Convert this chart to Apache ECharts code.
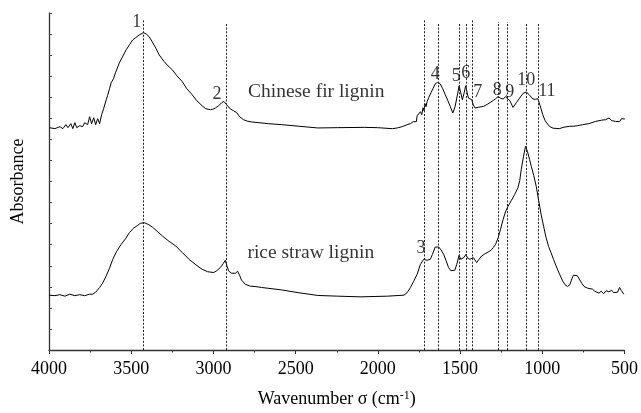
<!DOCTYPE html>
<html>
<head>
<meta charset="utf-8">
<script src="https://cdn.jsdelivr.net/npm/echarts@6/dist/echarts.min.js"></script>
<style>html,body{margin:0;padding:0;background:#fff;}#c{width:641px;height:413px;}</style>
</head>
<body>
<div id="c"></div>
<script>
// Chinese fir lignin spectrum (wavenumber, arbitrary absorbance)
var firWn = [3998,3964,3934,3916,3897,3885,3867,3855,3843,3831,3813,3795,3783,3765,3753,3741,3728,3716,3704,3692,3680,3674,3668,3652,3644,3632,3622,3608,3596,3572,3553,3531,3511,3491,3475,3451,3425,3409,3391,3372,3350,3330,3300,3276,3250,3222,3190,3162,3129,3101,3069,3047,3018,3004,2988,2968,2950,2936,2920,2897,2878,2858,2841,2817,2793,2767,2666,2586,2485,2365,2244,2083,2003,1912,1882,1852,1840,1822,1810,1802,1790,1785,1773,1766,1761,1752,1741,1733,1725,1719,1713,1707,1701,1691,1684,1677,1670,1665,1651,1637,1621,1605,1590,1574,1560,1544,1530,1514,1506,1496,1486,1475,1466,1457,1449,1439,1429,1420,1409,1387,1359,1333,1298,1284,1268,1254,1238,1224,1212,1197,1178,1158,1138,1116,1097,1079,1057,1043,1027,1013,997,983,957,935,897,868,836,808,784,755,717,675,639,615,594,578,566,554,542,530,518,498];
var firAbs = [223,222,224,222,226,223,227,222,228,223,225,224,228,226,234,227,233,226,232,227,236,234,242,251,255,262,268,272,278,288,294,301,306,311,313,316,318.3,317,314.3,309,302.7,296,289.3,285,281,275,269.3,262,256,250,245,242,241,241.5,242.7,245,248,249.3,246,241.7,240,238,234,231,229.5,228.7,227,226,224.5,222.7,223,223.3,223,222,222.7,224,223,226,224,227,225,229,231,229,235,233,239,236,243,240,247,244,249,253,251,258,256,262,267,268.3,267,262,256,250,244.3,237.7,244.3,257.7,265,258,251,258,265,258,252.7,253,251,246,242.7,243.5,244.3,246.5,250.3,252,254.3,252.5,251.7,254,255,250,243.3,248,252.7,257.5,258.7,256,251.7,251.5,252,245,236,230,224.3,222.5,222,223.5,224.3,224.5,225,226,227,229.3,230.5,231,232.7,230,231,229.3,231,229,232,231.7];

// Rice straw lignin spectrum
var riceWn = [4000,3964,3934,3903,3873,3843,3813,3783,3753,3733,3716,3692,3674,3652,3632,3612,3590,3561,3535,3511,3487,3461,3445,3421,3397,3371,3342,3310,3270,3229,3191,3149,3107,3069,3035,2998,2980,2958,2941,2928,2917,2908,2890,2878,2866,2853,2841,2829,2807,2775,2747,2707,2586,2485,2365,2244,2103,1942,1841,1822,1802,1782,1761,1741,1721,1711,1701,1681,1668,1651,1630,1616,1600,1586,1570,1556,1544,1532,1520,1506,1496,1486,1475,1464,1454,1440,1429,1419,1399,1384,1369,1348,1329,1312,1298,1284,1268,1254,1238,1224,1208,1188,1168,1148,1137,1128,1114,1102,1090,1077,1067,1052,1037,1022,1007,992,977,962,947,932,916,895,876,862,846,832,823,811,800,787,776,760,746,724,695,681,669,655,642,627,612,595,578,566,554,542,530,521,512,504];
var riceAbs = [55,54.5,55.5,54,56,54.5,55.5,54.5,56,56,58,62.7,67,74.3,82,91,98.5,106,111.5,117.7,122,125,127,127.7,126,123.3,119,114.3,109,104.3,98,91,85.5,81,78.5,77.7,79.5,82.7,86.5,90,84,79.3,77,76,77,79,75,70,66,64,63.7,62.7,60.3,57.5,54.7,54,53.3,54,55,57.5,62.7,69,76,86,91,92.7,90,91,96,103.3,103.3,100.5,96,90,82.7,79.5,78.3,80,86,95,91,89.3,93,96,92,91,92.7,92.7,87.7,91,94.3,96.5,98.3,100,102.7,106,112.7,121,131,138.5,144.3,150,156,162.7,170,181,194.3,204.3,199,191,184.3,175,164.3,150,136,124,112.7,104,97.7,91,84.3,76,69.3,65.5,63.7,65.5,70,75,76,74.5,72.7,67,63.7,62,61,59,60.5,57,59,56.5,59.5,58.3,60,57.5,59.3,58,62.7,60,58,56];

// Peak reference lines
var peakWn  = [3427,2925,1715,1633,1505,1462,1425,1268,1212,1100,1027];
var peakTop = [331,328,331,328,328,328,331,329,329,328,327];

// Peak number labels
var labelText = ['1','2','3','4','5','6','7','8','9','10','11'];
var labelWn   = [3467,2978,1737,1651,1524,1466,1393,1274,1198,1097,972];
var labelAbs  = [329,256.7,102,276.8,274.3,277.3,258.5,260.2,259,270.2,259.3];

// Curve names
var curveNames = ['Chinese fir lignin','rice straw lignin'];
var curveNameWn = [2375,2408];
var curveNameAbs = [258.7,97];

// Axis ticks
var xMin = 500, xMax = 4000, xStep = 500;

var FONT = '"Liberation Serif","Times New Roman",serif';

function pairs(a, b) { return a.map(function (v, i) { return [v, b[i]]; }); }

var markLines = peakWn.map(function (w, i) {
  return [{ coord: [w, 0] }, { coord: [w, peakTop[i]] }];
});

var labelData = labelText.map(function (t, i) { return { value: [labelWn[i], labelAbs[i]], name: t }; });
var nameData = curveNames.map(function (t, i) { return { value: [curveNameWn[i], curveNameAbs[i]], name: t }; });

var chart = echarts.init(document.getElementById('c'), null, { renderer: 'canvas' });
chart.setOption({
  animation: false,
  backgroundColor: '#fff',
  grid: { left: 49, right: 12, top: 13, bottom: 62, containLabel: false },
  xAxis: {
    type: 'value', inverse: true, min: xMin, max: xMax, interval: xStep,
    name: '{a|Wavenumber σ (cm}{s|-1}{a|)}',
    nameLocation: 'middle', nameGap: 40,
    nameTextStyle: {
      rich: {
        a: { fontFamily: FONT, fontSize: 18, color: '#000' },
        s: { fontFamily: FONT, fontSize: 12, color: '#000', verticalAlign: 'top' }
      }
    },
    axisLine: { show: true, onZero: false, lineStyle: { color: '#333', width: 1.3 } },
    axisTick: { show: true, inside: false, length: 4, lineStyle: { color: '#333', width: 1 } },
    minorTick: { show: true, splitNumber: 2, length: 2.5, lineStyle: { color: '#333', width: 1 } },
    axisLabel: { fontFamily: FONT, fontSize: 18, color: '#000', margin: 10, formatter: function (v) { return String(v); } },
    splitLine: { show: false }
  },
  yAxis: {
    type: 'value', min: 0, max: 338, interval: 21.125,
    name: 'Absorbance', nameLocation: 'middle', nameGap: 22,
    nameTextStyle: { fontFamily: FONT, fontSize: 18, color: '#000' },
    axisLine: { show: true, onZero: false, lineStyle: { color: '#333', width: 1.3 } },
    axisTick: { show: true, inside: true, length: 3, lineStyle: { color: '#444', width: 1 } },
    axisLabel: { show: false },
    splitLine: { show: false }
  },
  series: [
    {
      type: 'line', data: pairs(firWn, firAbs), showSymbol: false, symbol: 'none',
      lineStyle: { color: '#000', width: 1 }, z: 3
    },
    {
      type: 'line', data: pairs(riceWn, riceAbs), showSymbol: false, symbol: 'none',
      lineStyle: { color: '#000', width: 1 }, z: 3,
      markLine: {
        silent: true, symbol: ['none', 'none'], label: { show: false },
        lineStyle: { color: '#222', width: 1, type: [2, 1.6] },
        data: markLines
      }
    },
    {
      type: 'scatter', data: labelData, symbolSize: 0, z: 5,
      label: { show: true, position: 'inside', formatter: '{b}', fontFamily: FONT, fontSize: 18, color: '#000' }
    },
    {
      type: 'scatter', data: nameData, symbolSize: 0, z: 5,
      label: { show: true, position: 'inside', formatter: '{b}', fontFamily: FONT, fontSize: 19.5, color: '#000' }
    }
  ]
});
</script>
</body>
</html>
